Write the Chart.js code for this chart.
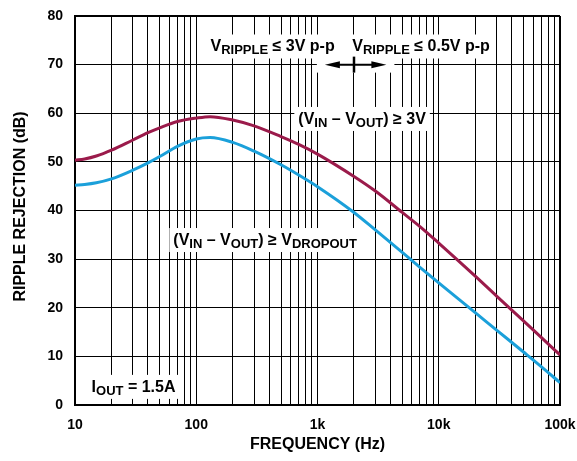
<!DOCTYPE html>
<html>
<head>
<meta charset="utf-8">
<script src="https://cdn.jsdelivr.net/npm/chart.js@4.4.1/dist/chart.umd.min.js"></script>
<style>
  html, body { margin: 0; padding: 0; background: #fff; }
  #wrap { width: 577px; height: 461px; }
</style>
</head>
<body>
<div id="wrap"><canvas id="rippleChart" width="577" height="461"></canvas></div>
<script>
// ---------------------------------------------------------------
// data
// ---------------------------------------------------------------
const freqHz = [10, 12, 15, 20, 30, 40, 50, 70, 100, 130, 200, 300, 500, 700,
                1000, 2000, 3000, 5000, 7000, 10000, 20000, 30000, 50000, 70000, 100000];

// (VIN - VOUT) >= 3V
const rejection3V = [50.35, 50.6, 51.2, 52.4, 54.5, 56.0, 57.0, 58.3, 59.0, 59.3, 58.6, 57.4, 55.2, 53.6,
                     51.6, 47.0, 44.0, 39.6, 36.7, 33.3, 26.5, 22.4, 17.3, 13.9, 10.3];

// (VIN - VOUT) >= VDROPOUT
const rejectionDropout = [45.2, 45.35, 45.7, 46.5, 48.3, 49.8, 51.1, 53.2, 54.7, 55.0, 54.0, 52.2, 49.4, 47.3,
                          44.9, 39.6, 36.0, 31.4, 28.3, 25.1, 19.0, 15.4, 10.9, 7.9, 4.6];

// grid lines on the log axis (1..9 per decade)
const xGridHz = [10, 20, 30, 40, 50, 60, 70, 80, 90,
                 100, 200, 300, 400, 500, 600, 700, 800, 900,
                 1000, 2000, 3000, 4000, 5000, 6000, 7000, 8000, 9000,
                 10000, 20000, 30000, 40000, 50000, 60000, 70000, 80000, 90000,
                 100000];
const xTickLabels = { 10: '10', 100: '100', 1000: '1k', 10000: '10k', 100000: '100k' };
const yTicks = [0, 10, 20, 30, 40, 50, 60, 70, 80];

const xTitle = 'FREQUENCY (Hz)';
const yTitle = 'RIPPLE REJECTION (dB)';

// text notes, anchored in data units: [freq of left edge, dB of baseline, parts]
const notes = [
    { f: 131, db: 72.7, parts: [['V'], ['RIPPLE', 1], [' \u2264 3V p-p']] },
    { f: 1936, db: 72.7, parts: [['V'], ['RIPPLE', 1], [' \u2264 0.5V p-p']] },
    { f: 695, db: 57.8, parts: [['(V'], ['IN', 1], [' \u2013 V'], ['OUT', 1], [') \u2265 3V']] },
    { f: 64.7, db: 32.9, parts: [['(V'], ['IN', 1], [' \u2013 V'], ['OUT', 1], [') \u2265 V'], ['DROPOUT', 1]] },
    { f: 13.7, db: 2.7, parts: [['I'], ['OUT', 1], [' = 1.5A']] }
];
// double arrow between the two ripple regions
const arrowNote = { from: 1150, to: 3700, mark: 2000, db: 70 };

const colors = {
    v3: 'rgb(155, 27, 75)',
    dropout: 'rgb(27, 160, 218)',
    ink: '#000'
};

const FONT = '"Liberation Sans", Arial, Helvetica, sans-serif';
const mainFont = `bold 16px ${FONT}`;
const subFont = `bold 13px ${FONT}`;

// ---------------------------------------------------------------
// annotation plugin
// ---------------------------------------------------------------
function partsWidth(ctx, parts) {
    let w = 0;
    parts.forEach(p => {
        ctx.font = p[1] ? subFont : mainFont;
        w += ctx.measureText(p[0]).width;
    });
    return w;
}

const notesPlugin = {
    id: 'notes',
    afterDraw(chart) {
        const { ctx, scales, chartArea } = chart;
        const xs = scales.x, ys = scales.y;
        ctx.save();

        // text notes with white boxes
        notes.forEach(n => {
            const x0 = xs.getPixelForValue(n.f);
            const base = ys.getPixelForValue(n.db);
            const w = partsWidth(ctx, n.parts);
            ctx.fillStyle = '#fff';
            ctx.fillRect(x0 - 4, base - 17, w + 8, 24);
            let x = x0;
            ctx.fillStyle = colors.ink;
            ctx.textBaseline = 'alphabetic';
            ctx.textAlign = 'left';
            n.parts.forEach(p => {
                ctx.font = p[1] ? subFont : mainFont;
                ctx.fillText(p[0], x, p[1] ? base + 3 : base);
                x += ctx.measureText(p[0]).width;
            });
        });

        // arrow
        const ax1 = xs.getPixelForValue(arrowNote.from);
        const ax2 = xs.getPixelForValue(arrowNote.to);
        const am = xs.getPixelForValue(arrowNote.mark);
        const ay = ys.getPixelForValue(arrowNote.db);
        ctx.fillStyle = '#fff';
        ctx.fillRect(ax1 - 8, ay - 8, ax2 - ax1 + 16, 16);
        ctx.strokeStyle = colors.ink;
        ctx.fillStyle = colors.ink;
        ctx.lineWidth = 2;
        ctx.beginPath();
        ctx.moveTo(ax1 + 10, ay);
        ctx.lineTo(ax2 - 10, ay);
        ctx.stroke();
        ctx.beginPath();
        ctx.moveTo(ax1, ay);
        ctx.lineTo(ax1 + 15, ay - 3.5);
        ctx.lineTo(ax1 + 15, ay + 3.5);
        ctx.closePath();
        ctx.fill();
        ctx.beginPath();
        ctx.moveTo(ax2, ay);
        ctx.lineTo(ax2 - 15, ay - 3.5);
        ctx.lineTo(ax2 - 15, ay + 3.5);
        ctx.closePath();
        ctx.fill();
        ctx.lineWidth = 2.5;
        ctx.beginPath();
        ctx.moveTo(am, ay - 8);
        ctx.lineTo(am, ay + 8);
        ctx.stroke();

        // axis titles
        ctx.font = mainFont;
        ctx.fillStyle = colors.ink;
        ctx.textAlign = 'center';
        ctx.textBaseline = 'alphabetic';
        ctx.fillText(xTitle, (chartArea.left + chartArea.right) / 2, 449);
        ctx.translate(25, (chartArea.top + chartArea.bottom) / 2 - 4);
        ctx.rotate(-Math.PI / 2);
        ctx.fillText(yTitle, 0, 0);

        ctx.restore();
    }
};

// ---------------------------------------------------------------
// chart
// ---------------------------------------------------------------
const toPoints = arr => freqHz.map((f, i) => ({ x: f, y: arr[i] }));
const edgeWidth = (ctx, count) => (ctx.index === 0 || ctx.index === count - 1) ? 2 : 1;

Chart.defaults.font.family = FONT;
Chart.defaults.color = '#000';

new Chart(document.getElementById('rippleChart'), {
    type: 'line',
    data: {
        datasets: [
            {
                label: '(VIN - VOUT) >= 3V',
                data: toPoints(rejection3V),
                borderColor: colors.v3,
                borderWidth: 3,
                pointRadius: 0,
                cubicInterpolationMode: 'monotone',
                fill: false
            },
            {
                label: '(VIN - VOUT) >= VDROPOUT',
                data: toPoints(rejectionDropout),
                borderColor: colors.dropout,
                borderWidth: 3,
                pointRadius: 0,
                cubicInterpolationMode: 'monotone',
                fill: false
            }
        ]
    },
    options: {
        responsive: false,
        animation: false,
        devicePixelRatio: 1,
        layout: { padding: { left: 0, right: 17, top: 16, bottom: 0 } },
        plugins: {
            legend: { display: false },
            tooltip: { enabled: false }
        },
        scales: {
            x: {
                type: 'logarithmic',
                min: 10,
                max: 100000,
                afterBuildTicks: s => { s.ticks = xGridHz.map(v => ({ value: v })); },
                afterFit: s => { s.height = 56; s.paddingLeft = 0; s.paddingRight = 0; },
                grid: {
                    color: '#000',
                    lineWidth: c => edgeWidth(c, xGridHz.length),
                    drawTicks: false
                },
                border: { display: true, color: '#000', width: 2 },
                ticks: {
                    autoSkip: false,
                    maxRotation: 0,
                    padding: 12,
                    font: { size: 14, weight: 'bold' },
                    callback: v => xTickLabels[v] || ''
                }
            },
            y: {
                type: 'linear',
                min: 0,
                max: 80,
                afterBuildTicks: s => { s.ticks = yTicks.map(v => ({ value: v })); },
                afterFit: s => { s.width = 75; s.paddingTop = 0; s.paddingBottom = 0; },
                grid: {
                    color: '#000',
                    lineWidth: c => edgeWidth(c, yTicks.length),
                    drawTicks: false
                },
                border: { display: true, color: '#000', width: 2 },
                ticks: {
                    padding: 12,
                    font: { size: 14, weight: 'bold' }
                }
            }
        }
    },
    plugins: [notesPlugin]
});
</script>
</body>
</html>
